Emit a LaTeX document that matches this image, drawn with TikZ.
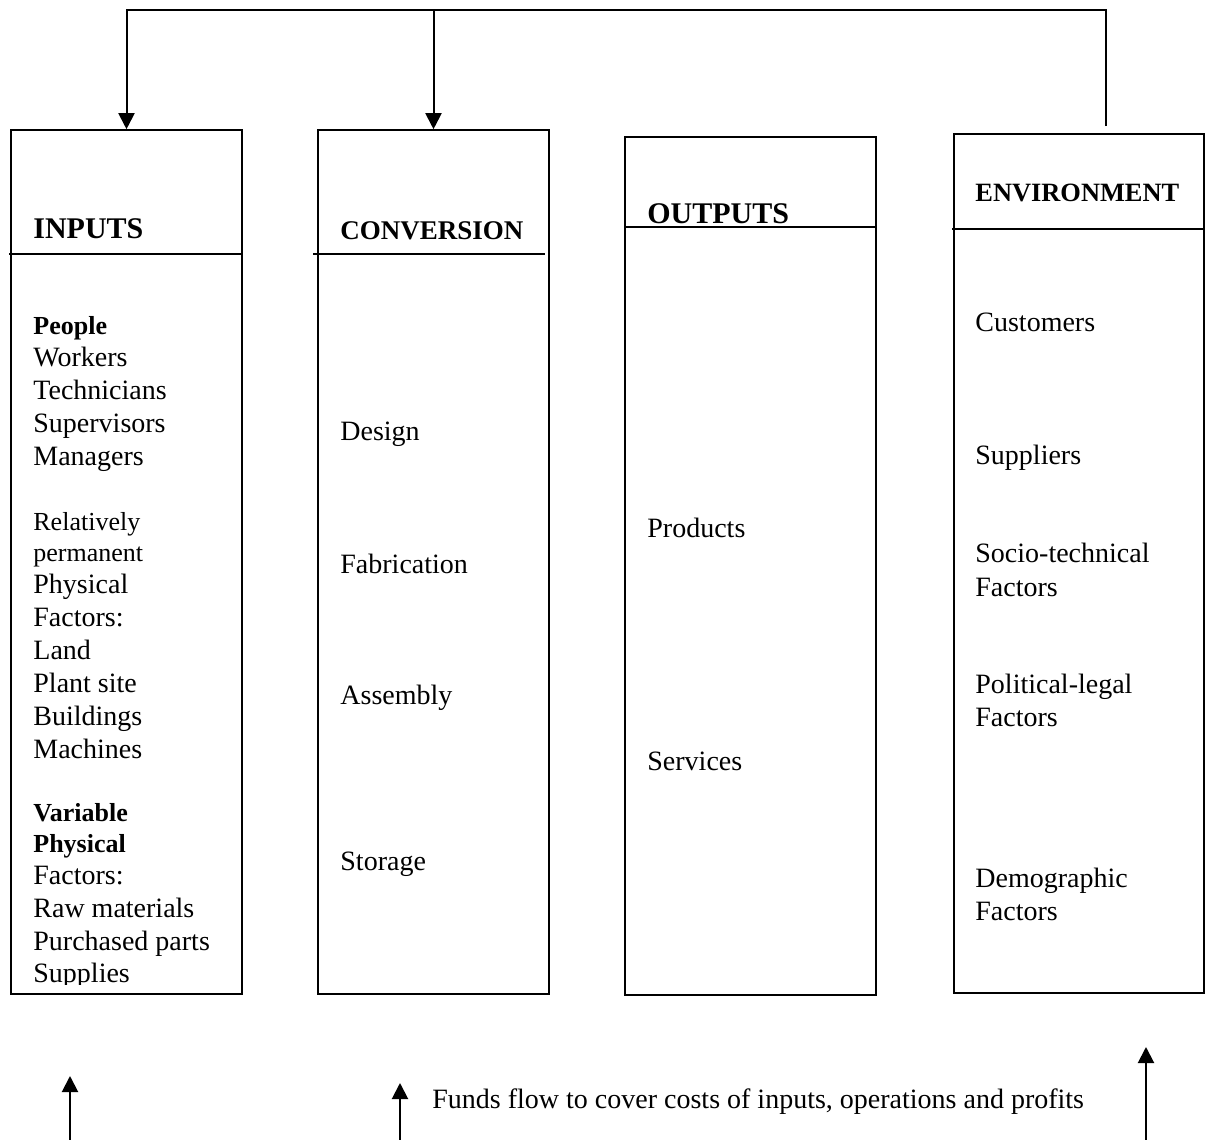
\documentclass[tikz,border=0pt]{standalone}
\usepackage{fontspec}
\setmainfont{Liberation Serif}
\usetikzlibrary{arrows.meta,fit}

\tikzset{
  colbox/.style={draw, line width=0.8pt, inner sep=0pt},
  colhead/.style={anchor=west, inner sep=0pt, text height=10pt, text depth=0pt,
    font=\bfseries\fontsize{15}{18}\selectfont},
  entry/.style={anchor=west, inner sep=0pt, text height=10.5pt, text depth=1.5pt,
    font=\fontsize{14}{16}\selectfont},
  flowarrow/.style={line width=1pt, -{Triangle[length=8pt,width=8pt]}}
}

\begin{document}
\begin{tikzpicture}[x=0.5pt,y=-0.5pt]
\useasboundingbox (0,0) rectangle (1207,1140);

% columns
\node[colbox, fit={(11,130) (242,994)}] (inputs) {};
\node[colbox, fit={(318,130) (549,994)}] (conv) {};
\node[colbox, fit={(625,137) (876,995)}] (outputs) {};
\node[colbox, fit={(954,134) (1204,993)}] (env) {};

\draw[line width=0.8pt] (9,254) -- (242,254);
\draw[line width=0.8pt] (313,254) -- (545,254);
\draw[line width=0.8pt] (625,227) -- (876,227);
\draw[line width=0.8pt] (952,229) -- (1204,229);

% headings
\node[colhead] (inhead) at (33,228) {INPUTS};
\node[colhead, font=\bfseries\fontsize{13.5}{16}\selectfont] (convhead) at (340,229) {CONVERSION};
\node[colhead] (outhead) at (647,213) {OUTPUTS};
\node[colhead, font=\bfseries\fontsize{13.2}{16}\selectfont] (envhead) at (975,191) {ENVIRONMENT};

% inputs list
\begin{scope}
\clip (11,130) rectangle (242,984);
\foreach \yy/\txt [count=\i] in {
  325/{\bfseries\fontsize{13}{16}\selectfont People},
  357/Workers, 390/Technicians, 423/Supervisors, 456/Managers,
  521/{\fontsize{13}{16}\selectfont Relatively},
  552/{\fontsize{13}{16}\selectfont permanent},
  584/Physical, 617/Factors:, 650/Land, 683/Plant site, 716/Buildings, 749/Machines,
  812/{\bfseries\fontsize{13}{16}\selectfont Variable},
  843/{\bfseries\fontsize{13}{16}\selectfont Physical},
  875/Factors:, 908/Raw materials, 941/Purchased parts, 973/Supplies}
  \node[entry] (inp\i) at (33,\yy) {\txt};
\end{scope}

% conversion list
\foreach \yy/\txt [count=\i] in {431/Design, 564/Fabrication, 695/Assembly, 861/Storage}
  \node[entry] (cnv\i) at (340,\yy) {\txt};

% outputs list
\node[entry] (prod) at (647,528) {Products};
\node[entry] (serv) at (647,761) {Services};

% environment list
\foreach \yy/\txt [count=\i] in {322/Customers, 455/Suppliers, 553/Socio-technical,
  587/Factors, 684/Political-legal, 717/Factors, 878/Demographic, 911/Factors}
  \node[entry] (envi\i) at (975,\yy) {\txt};

% feedback from environment
\coordinate (envtop) at (1106,126);
\coordinate (ret) at (1106,10);
\draw[flowarrow] (envtop) -- (ret) -| (inputs.north);
\draw[flowarrow] (conv.north |- ret) -- (conv.north);

% funds flow
\foreach \xx/\ya/\yb [count=\i] in {70/1140/1076, 400/1140/1083, 1146/1140/1047} {
  \coordinate (fs\i) at (\xx,\ya);
  \coordinate (fe\i) at (\xx,\yb);
  \draw[flowarrow] (fs\i) -- (fe\i);
}
\node[entry, font=\fontsize{14}{16}\selectfont] (funds) at (432,1099)
  {Funds flow to cover costs of inputs, operations and profits};
\end{tikzpicture}
\end{document}
